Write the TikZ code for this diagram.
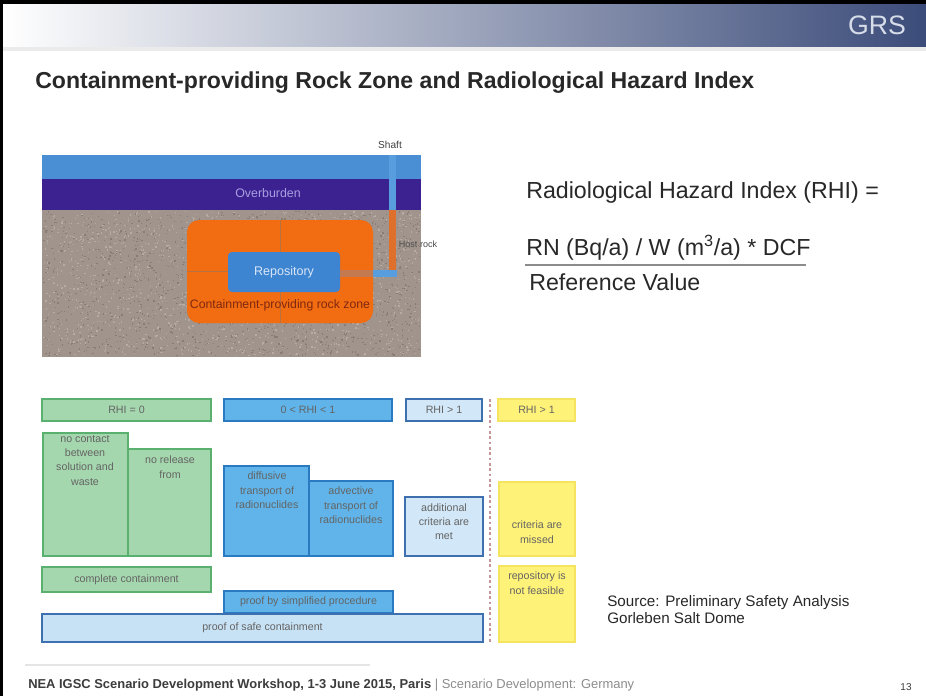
\documentclass[tikz,border=0pt]{standalone}
\usepackage{fontspec}
\setmainfont{Liberation Sans}
\usetikzlibrary{fit}

\definecolor{hdrdark}{RGB}{60,76,122}
\definecolor{logotext}{RGB}{214,220,232}
\definecolor{gfill}{RGB}{165,215,174}
\definecolor{gline}{RGB}{90,176,110}
\definecolor{bfill}{RGB}{96,180,233}
\definecolor{bline}{RGB}{42,122,194}
\definecolor{lbfill}{RGB}{210,231,247}
\definecolor{lbline}{RGB}{62,112,176}
\definecolor{pfill}{RGB}{200,226,245}
\definecolor{yfill}{RGB}{255,242,120}
\definecolor{yline}{RGB}{244,228,96}
\definecolor{chartgray}{RGB}{100,100,100}
\definecolor{divider}{RGB}{196,150,150}
\definecolor{skyband}{RGB}{74,143,212}
\definecolor{overb}{RGB}{59,34,144}
\definecolor{overbtext}{RGB}{170,158,226}
\definecolor{rock}{RGB}{160,148,140}
\definecolor{rockdark}{RGB}{136,124,116}
\definecolor{rocklight}{RGB}{182,172,165}
\definecolor{czone}{RGB}{242,108,18}
\definecolor{czonetext}{RGB}{128,40,16}
\definecolor{repo}{RGB}{61,133,208}
\definecolor{repotext}{RGB}{218,230,248}
\definecolor{shaftblue}{RGB}{88,158,222}
\definecolor{shaftorange}{RGB}{222,112,44}
\definecolor{drift}{RGB}{196,122,80}
\definecolor{bodytext}{RGB}{40,40,40}
\definecolor{foottext}{RGB}{60,60,60}
\definecolor{footlight}{RGB}{140,140,140}

\tikzset{
  cell/.style={draw, line width=1.4pt, inner sep=0pt},
  greencell/.style={cell, fill=gfill, draw=gline},
  bluecell/.style={cell, fill=bfill, draw=bline},
  lightcell/.style={cell, fill=lbfill, draw=lbline},
  proofcell/.style={cell, fill=pfill, draw=lbline},
  yellowcell/.style={cell, fill=yfill, draw=yline},
  celltext/.style={font=\fontsize{8}{10.8}\selectfont, text=chartgray, align=center, inner sep=0pt},
  geolabel/.style={inner sep=0pt, align=center},
  formula/.style={font=\fontsize{17.4}{20}\selectfont, text=bodytext, anchor=base west, inner sep=0pt},
}

\begin{document}
\begin{tikzpicture}[x=0.75pt,y=-0.75pt]
  % page area
  \fill[white] (0,0) rectangle (926,696);
  \useasboundingbox (0,0) rectangle (926,696);

  % header band with logo
  \shade[left color=white, right color=hdrdark] (3,4) rectangle (926,47);
  \fill[black!8] (3,47) rectangle (926,51);
  \node[font=\fontsize{20}{20}\selectfont, text=logotext, inner sep=0pt] (logo) at (877,25) {GRS};
  \fill[black] (0,0) rectangle (926,4);
  \fill[black] (0,0) rectangle (3,696);

  % slide title
  \node[anchor=base west, inner sep=0pt, font=\bfseries\fontsize{17.3}{20}\selectfont, text=bodytext] (title) at (35,88)
    {Containment-providing Rock Zone and Radiological Hazard Index};

  % ---------- geological cross-section ----------
  \fill[rock] (42,210) rectangle (421,357);
  \pgfmathsetseed{17}
  \foreach \i in {1,...,1400}{
    \pgfmathsetmacro\rx{43+rnd*376}
    \pgfmathsetmacro\ry{211+rnd*144}
    \fill[rockdark] (\rx,\ry) rectangle ++(1.3,1.3);
  }
  \foreach \i in {1,...,1400}{
    \pgfmathsetmacro\rx{43+rnd*376}
    \pgfmathsetmacro\ry{211+rnd*144}
    \fill[rocklight] (\rx,\ry) rectangle ++(1.3,1.3);
  }
  \fill[skyband] (42,155) rectangle (421,179);
  \fill[overb] (42,179) rectangle (421,210);
  \node[geolabel, font=\fontsize{9.3}{10}\selectfont, text=overbtext] (overburden) at (268,193) {Overburden};

  % containment-providing rock zone and repository
  \fill[czone, rounded corners=9pt] (187,220) rectangle (373,323);
  \draw[rock!80!black, opacity=0.5, line width=0.6pt] (280,220) -- (280,323);
  \draw[rock!80!black, opacity=0.5, line width=0.6pt] (187,271) -- (228,271);
  \fill[repo, rounded corners=3pt] (228,252) rectangle (340,292);
  \node[geolabel, font=\fontsize{9.4}{10}\selectfont, text=repotext] (repository) at (284,272) {Repository};
  \node[geolabel, font=\fontsize{9.2}{10}\selectfont, text=czonetext] (zone) at (280,305) {Containment-providing rock zone};

  % shaft and access drift
  \fill[shaftblue] (389,155) rectangle (396,210);
  \fill[shaftorange] (389,210) rectangle (396,270);
  \fill[drift] (340,270) rectangle (373,277);
  \fill[shaftblue] (373,270) rectangle (397,277);
  \node[geolabel, font=\fontsize{7.6}{8}\selectfont, text=black!75] (shaft) at (390,145) {Shaft};
  \node[geolabel, font=\fontsize{6.8}{7}\selectfont, text=black!70] (hostrock) at (418,244) {Host rock};

  % ---------- hazard index definition ----------
  \node[formula] (rhi) at (526,198) {Radiological Hazard Index (RHI) =};
  \node[formula] (num) at (526,255) {RN (Bq/a) / W (m\textsuperscript{3}/a) * DCF};
  \draw[black!45, line width=1.6pt] (525,265) -- (806,265);
  \node[formula] (den) at (529,290) {Reference Value};

  % ---------- classification chart ----------
  % column headers
  \node[greencell, fit={(42,399) (211,421)}] (h0) {};
  \node[celltext] at (h0.center) {RHI = 0};
  \node[bluecell, fit={(224,399) (392,421)}] (h1) {};
  \node[celltext] at (h1.center) {0 < RHI < 1};
  \node[lightcell, fit={(406,399) (482,421)}] (h2) {};
  \node[celltext] at (h2.center) {RHI > 1};
  \node[yellowcell, fit={(498,399) (575,421)}] (h3) {};
  \node[celltext] at (h3.center) {RHI > 1};

  % RHI = 0
  \node[greencell, fit={(43,433) (128,556)}] (nocontact) {};
  \node[celltext, anchor=north] (nocontactT) at (85,435) {no contact\\between\\solution and\\waste};
  \node[greencell, fit={(128,449) (211,556)}] (norelease) {};
  \node[celltext, anchor=north] (noreleaseT) at (170,456) {no release\\from};
  \node[greencell, fit={(42,567) (211,592)}] (complete) {};
  \node[celltext] at (complete.center) {complete containment};

  % 0 < RHI < 1
  \node[bluecell, fit={(224,466) (309,556)}] (diffusive) {};
  \node[celltext, anchor=north] (diffusiveT) at (267,472) {diffusive\\transport of\\radionuclides};
  \node[bluecell, fit={(309,481) (393,556)}] (advective) {};
  \node[celltext, anchor=north] (advectiveT) at (351,487) {advective\\transport of\\radionuclides};
  \node[bluecell, fit={(224,591) (393,613)}] (simplified) {};
  \node[celltext] at (simplified.center) {proof by simplified procedure};

  % RHI > 1, additional criteria met
  \node[lightcell, fit={(405,497) (483,556)}] (additional) {};
  \node[celltext, anchor=north] (additionalT) at (444,503) {additional\\criteria are\\met};

  % proof of safe containment
  \node[proofcell, fit={(42,614) (483,642)}] (safe) {};
  \node[celltext] at (safe.center) {proof of safe containment};

  % RHI > 1, criteria missed
  \node[yellowcell, fit={(499,482) (575,556)}] (missed) {};
  \node[celltext, anchor=north] (missedT) at (537,521) {criteria are\\missed};
  \node[yellowcell, fit={(499,566) (575,642)}] (notfeasible) {};
  \node[celltext, anchor=north] (notfeasibleT) at (537,572) {repository is\\not feasible};

  % divider between acceptable and unacceptable results
  \coordinate (divtop) at (490,399);
  \coordinate (divbot) at (490,642);
  \draw[divider, dashed, line width=0.9pt, dash pattern=on 2pt off 2pt] (divtop) -- (divbot);

  % source
  \node[anchor=north west, inner sep=0pt, align=left, font=\fontsize{11.4}{13}\selectfont, text=bodytext] (source) at (607,595)
    {Source: Preliminary Safety Analysis\\Gorleben Salt Dome};

  % footer
  \draw[black!10, line width=0.8pt] (25,665) -- (370,665);
  \node[anchor=base west, inner sep=0pt, font=\fontsize{9.7}{11}\selectfont] (footer) at (28,688)
    {\textcolor{foottext}{\bfseries NEA IGSC Scenario Development Workshop, 1-3 June 2015, Paris} \textcolor{footlight}{| Scenario Development: Germany}};
  \node[anchor=base, inner sep=0pt, font=\fontsize{7.5}{9}\selectfont, text=foottext] (pagenum) at (906,690) {13};
\end{tikzpicture}
\end{document}
